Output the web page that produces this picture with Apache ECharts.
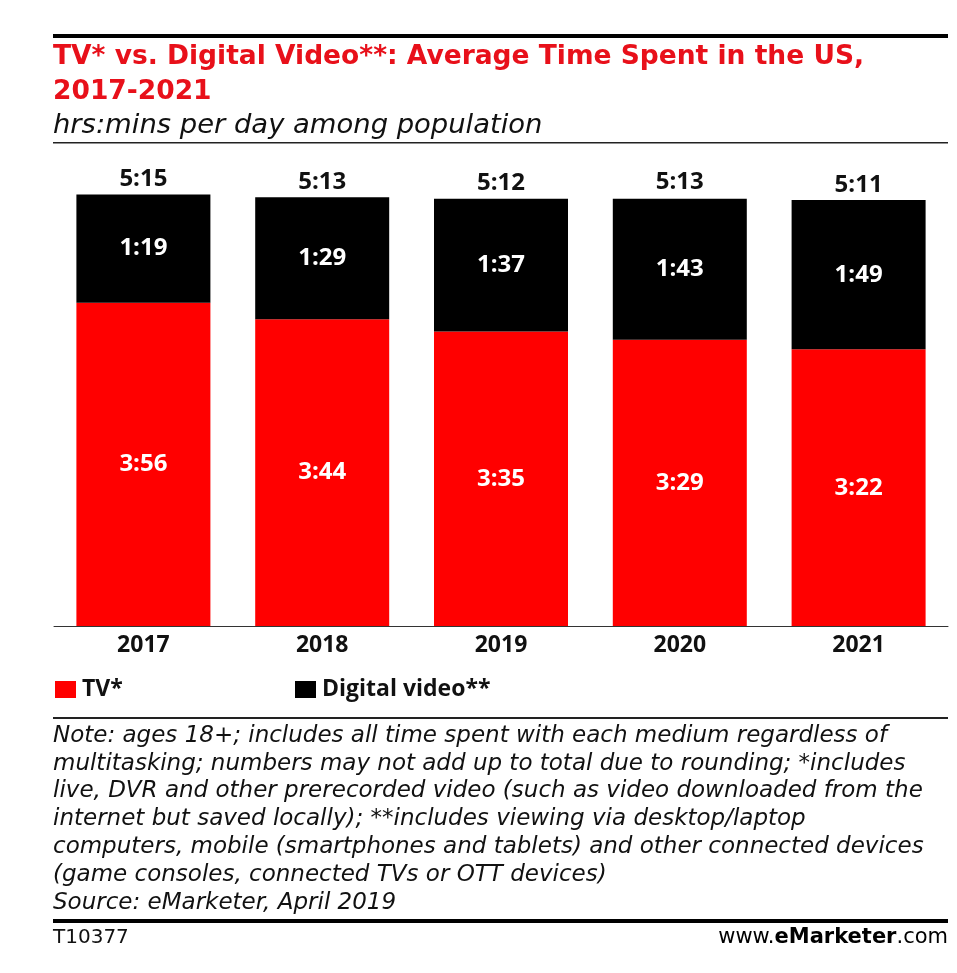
<!DOCTYPE html>
<html>
<head>
<meta charset="utf-8">
<script src="https://cdn.jsdelivr.net/npm/echarts@6/dist/echarts.min.js"></script>
<style>
html,body{margin:0;padding:0;background:#fff;}
#chart{width:957px;height:973px;}
</style>
</head>
<body>
<div id="chart"></div>
<script>
// ---- data ----
var categories = ['2017', '2018', '2019', '2020', '2021'];
var tvMinutes = [236, 224, 215, 209, 202];        // TV*  (3:56, 3:44, 3:35, 3:29, 3:22)
var digitalMinutes = [79, 89, 97, 103, 109];      // Digital video** (1:19, 1:29, 1:37, 1:43, 1:49)
var totalMinutes = [315, 313, 312, 313, 311];     // totals (5:15, 5:13, 5:12, 5:13, 5:11)
var seriesNames = ['TV*', 'Digital video**'];

var titleText = 'TV* vs. Digital Video**: Average Time Spent in the US,\n2017-2021';
var subtitleText = 'hrs:mins per day among population';
var noteLines = [
  'Note: ages 18+; includes all time spent with each medium regardless of',
  'multitasking; numbers may not add up to total due to rounding; *includes',
  'live, DVR and other prerecorded video (such as video downloaded from the',
  'internet but saved locally); **includes viewing via desktop/laptop',
  'computers, mobile (smartphones and tablets) and other connected devices',
  '(game consoles, connected TVs or OTT devices)',
  'Source: eMarketer, April 2019'
];

function fmt(m) {
  var h = Math.floor(m / 60), mm = m % 60;
  return h + ':' + (mm < 10 ? '0' + mm : mm);
}

var RED = '#ff0000';
var labelFont = '"Open Sans", sans-serif';
var wideFont = '"DejaVu Sans", sans-serif';

var chart = echarts.init(document.getElementById('chart'));
var option = {
  backgroundColor: '#fff',
  animation: false,
  title: [
    {
      text: titleText,
      left: 48, top: 40, padding: [0, 5],
      textStyle: { color: '#e8101a', fontFamily: wideFont, fontWeight: 'bold', fontSize: 26.5, lineHeight: 35 }
    },
    {
      text: subtitleText,
      left: 48, top: 112, padding: [0, 5],
      textStyle: { color: '#111', fontFamily: wideFont, fontStyle: 'italic', fontWeight: 'normal', fontSize: 27.4, lineHeight: 28 }
    }
  ],
  legend: [
    {
      data: [seriesNames[0]], left: 55, top: 678, padding: 0,
      icon: 'rect', itemWidth: 21, itemHeight: 17, itemGap: 0,
      textStyle: { fontFamily: labelFont, fontWeight: 'bold', fontSize: 23, color: '#111', padding: [0, 0, 0, 1] }
    },
    {
      data: [seriesNames[1]], left: 295, top: 678, padding: 0,
      icon: 'rect', itemWidth: 21, itemHeight: 17, itemGap: 0,
      textStyle: { fontFamily: labelFont, fontWeight: 'bold', fontSize: 23, color: '#111', padding: [0, 0, 0, 1] }
    }
  ],
  grid: { left: 54, right: 9, top: 174, bottom: 347, containLabel: false },
  xAxis: {
    type: 'category',
    data: categories,
    axisLine: { show: true, lineStyle: { color: '#333', width: 1 } },
    axisTick: { show: false },
    axisLabel: { margin: 8, fontFamily: labelFont, fontWeight: 'bold', fontSize: 23, color: '#111' }
  },
  yAxis: {
    type: 'value', min: 0, max: 330, show: false,
    splitLine: { show: false }
  },
  series: [
    {
      name: seriesNames[0], type: 'bar', stack: 'time', data: tvMinutes,
      barWidth: 134, itemStyle: { color: RED },
      label: {
        show: true, position: 'inside', color: '#fff',
        fontFamily: labelFont, fontWeight: 'bold', fontSize: 24,
        formatter: function (p) { return fmt(p.value); }
      }
    },
    {
      name: seriesNames[1], type: 'bar', stack: 'time', data: digitalMinutes,
      barWidth: 134, itemStyle: { color: '#000' },
      label: {
        show: true, position: 'inside', color: '#fff',
        fontFamily: labelFont, fontWeight: 'bold', fontSize: 24,
        formatter: function (p) { return fmt(p.value); }
      }
    },
    {
      name: 'Total', type: 'scatter', data: totalMinutes,
      symbolSize: 0, silent: true,
      itemStyle: { opacity: 1, color: '#000' },
      label: {
        show: true, position: 'top', distance: 3, color: '#111',
        fontFamily: labelFont, fontWeight: 'bold', fontSize: 24,
        formatter: function (p) { return fmt(p.value); }
      }
    }
  ],
  graphic: [
    { type: 'rect', shape: { x: 53, y: 34, width: 895, height: 4 }, style: { fill: '#000' } },
    { type: 'rect', shape: { x: 53, y: 142, width: 895, height: 1.5 }, style: { fill: '#222' } },
    { type: 'rect', shape: { x: 53, y: 717, width: 895, height: 2 }, style: { fill: '#222' } },
    { type: 'rect', shape: { x: 53, y: 919, width: 895, height: 4 }, style: { fill: '#000' } },
    {
      type: 'text', x: 53, y: 722,
      style: {
        text: noteLines.join('\n'),
        font: 'italic 23px "DejaVu Sans", sans-serif',
        fill: '#111', lineHeight: 27.8
      }
    },
    {
      type: 'text', x: 53, y: 928,
      style: { text: 'T10377', font: '20px "DejaVu Sans", sans-serif', fill: '#111' }
    },
    {
      type: 'text', x: 948, y: 927,
      style: {
        text: '{a|www.}{b|e}{c|Marketer}{a|.com}',
        align: 'right',
        rich: {
          a: { fontFamily: wideFont, fontSize: 21, color: '#111' },
          b: { fontFamily: wideFont, fontSize: 21, fontWeight: 'bold', color: '#e8101a' },
          c: { fontFamily: wideFont, fontSize: 21, fontWeight: 'bold', color: '#111' }
        }
      }
    }
  ]
};
chart.setOption(option);
</script>
</body>
</html>
